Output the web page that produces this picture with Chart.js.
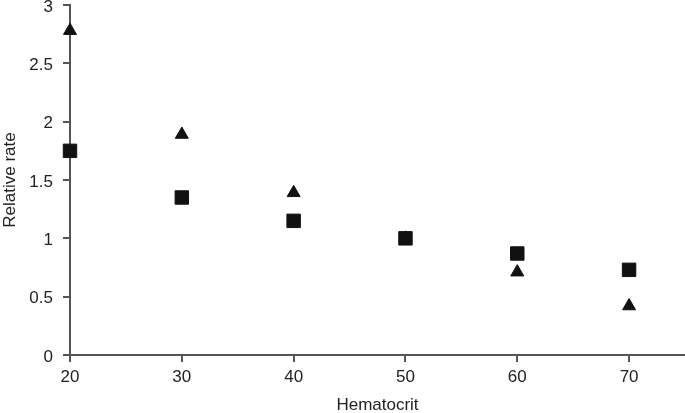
<!DOCTYPE html>
<html>
<head>
<meta charset="utf-8">
<script src="https://cdn.jsdelivr.net/npm/chart.js@4/dist/chart.umd.min.js"></script>
<style>
html,body{margin:0;padding:0;background:#fff;}
#wrap{width:685px;height:413px;}
</style>
</head>
<body>
<div id="wrap"><canvas id="c" width="685" height="413"></canvas></div>
<script>
const hematocrit = [20, 30, 40, 50, 60, 70];
const squareSeries = [1.75, 1.35, 1.15, 1.0, 0.87, 0.73];
const triangleSeries = [2.78, 1.89, 1.39, 1.0, 0.71, 0.42];
const xTicks = [20, 30, 40, 50, 60, 70];
const yTicks = [0, 0.5, 1, 1.5, 2, 2.5, 3];

const toPts = (xs, ys) => xs.map((x, i) => ({x: x, y: ys[i]}));
const axisColor = '#555';
const textColor = '#222';
const font = {family: 'Liberation Sans, Arial, sans-serif', size: 17};

new Chart(document.getElementById('c'), {
  type: 'scatter',
  data: {
    datasets: [
      {label: 'Triangle', data: toPts(hematocrit, triangleSeries), pointStyle: 'triangle',
       pointRadius: 7.5, backgroundColor: '#111', borderColor: '#111', borderWidth: 1, order: 2, clip: false},
      {label: 'Square', data: toPts(hematocrit, squareSeries), pointStyle: 'rect',
       pointRadius: 9.5, backgroundColor: '#111', borderColor: '#111', borderWidth: 1, order: 1, clip: false}
    ]
  },
  options: {
    responsive: false,
    animation: false,
    layout: {padding: 0, autoPadding: false},
    plugins: {legend: {display: false}, tooltip: {enabled: false}},
    scales: {
      x: {
        type: 'linear', min: 20, max: 75,
        afterBuildTicks: s => { s.ticks = xTicks.map(v => ({value: v})); },
        afterFit: s => { s.height = 58; s.paddingLeft = 0; s.paddingRight = 0; },
        border: {color: axisColor, width: 2},
        grid: {drawOnChartArea: false, color: axisColor, lineWidth: 2, tickLength: 7},
        ticks: {color: textColor, font: font, padding: 5, maxRotation: 0, callback: v => String(v)},
        title: {display: true, text: 'Hematocrit', color: textColor, font: font, padding: {top: 4, bottom: -3}}
      },
      y: {
        type: 'linear', min: 0, max: 3,
        afterBuildTicks: s => { s.ticks = yTicks.map(v => ({value: v})); },
        afterFit: s => { s.width = 70; s.paddingTop = 5; s.paddingBottom = 0; },
        border: {color: axisColor, width: 2},
        grid: {drawOnChartArea: false, color: axisColor, lineWidth: 2, tickLength: 7},
        ticks: {color: textColor, font: font, padding: 10, labelOffset: 2, callback: v => String(v)},
        title: {display: true, text: 'Relative rate', color: textColor, font: font, padding: {top: 0, bottom: 4}}
      }
    }
  }
});
</script>
</body>
</html>
